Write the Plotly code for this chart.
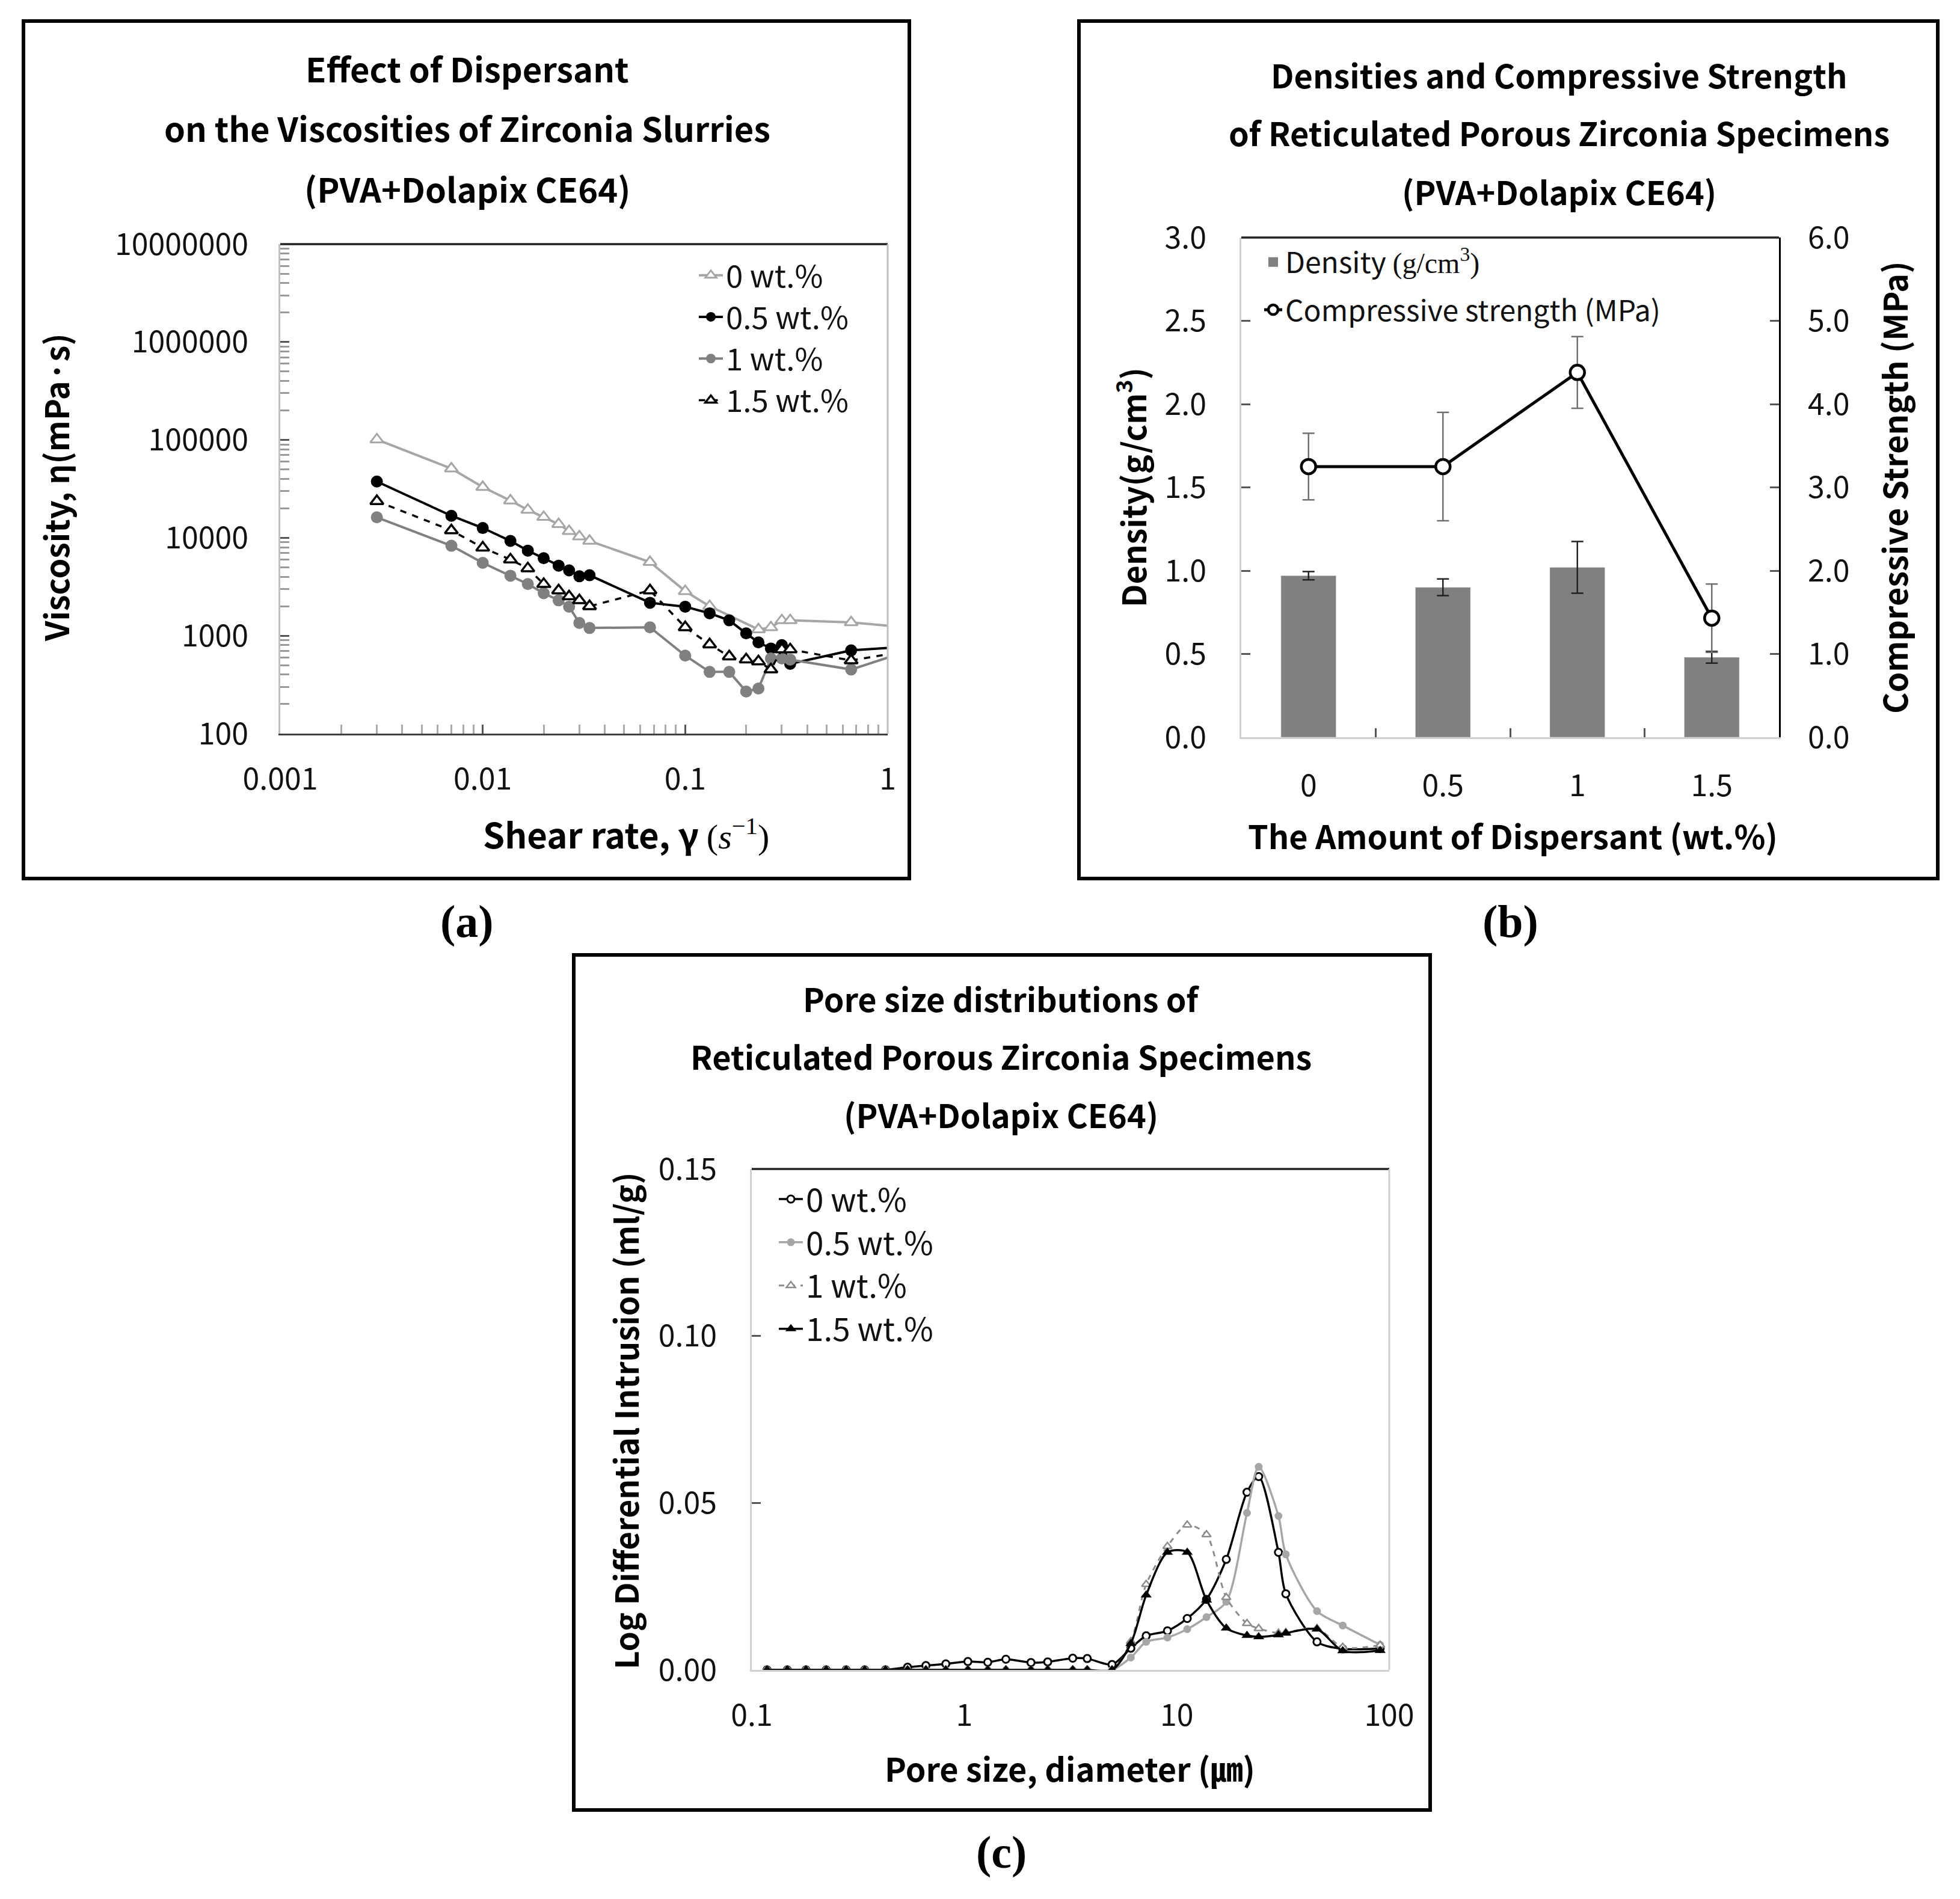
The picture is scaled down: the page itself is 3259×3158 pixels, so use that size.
import plotly.graph_objects as go

W, H = 3259, 3158
SANS = "Noto Sans CJK KR"
SERIF = "Liberation Serif"

# ---------------- Panel (a) data: viscosity vs shear rate ----------------
shear_0 = [0.003, 0.007, 0.01, 0.0137, 0.0167, 0.02, 0.0237, 0.0267, 0.03, 0.0337, 0.067, 0.1, 0.132, 0.23, 0.265, 0.3, 0.33, 0.66, 1.32]
visc_0 = [101000, 51000, 33000, 24000, 19300, 16300, 13800, 11700, 10300, 9300, 5650, 2850, 2000, 1160, 1216, 1436, 1436, 1368, 1200]
shear = [0.003, 0.007, 0.01, 0.0137, 0.0167, 0.02, 0.0237, 0.0267, 0.03, 0.0337, 0.067, 0.1, 0.132, 0.165, 0.2, 0.23, 0.265, 0.3, 0.33, 0.66, 1.32]
visc_05 = [37600, 16800, 12600, 9300, 7400, 6200, 5200, 4650, 4050, 4150, 2170, 1980, 1694, 1436, 1057, 855, 741, 803, 516, 708, 780]
visc_1 = [16200, 8300, 5550, 4100, 3370, 2720, 2300, 1980, 1350, 1200, 1220, 627, 427, 427, 269, 289, 586, 586, 570, 452, 720]
visc_15 = [23700, 11900, 7940, 6000, 4870, 3370, 2900, 2520, 2300, 2000, 2900, 1220, 815, 614, 572, 546, 452, 724, 724, 559, 710]
visc_ticks = [100, 1000, 10000, 100000, 1000000, 10000000]
visc_ticktext = ["100", "1000", "10000", "100000", "1000000", "10000000"]
shear_ticks = [0.001, 0.01, 0.1, 1]
shear_ticktext = ["0.001", "0.01", "0.1", "1"]

# ---------------- Panel (b) data: density and strength ----------------
dispersant = ["0", "0.5", "1", "1.5"]
density = [0.97, 0.90, 1.02, 0.48]
density_err = [0.025, 0.05, 0.155, 0.035]
strength = [3.25, 3.25, 4.38, 1.43]
strength_err = [0.40, 0.65, 0.43, 0.41]

# ---------------- Panel (c) data: pore size distribution ----------------
pore = [0.118, 0.147, 0.18, 0.224, 0.278, 0.34, 0.426, 0.541, 0.66, 0.819, 1.04, 1.29, 1.57, 2.06, 2.47, 3.24, 3.79, 4.96,
        6.08, 7.18, 9.04, 11.2, 13.8, 17.1, 21.4, 24.3, 30.1, 32.6, 45.7, 60.4, 90.6]
ldi_0 = [0, 0, 0, 0, 0, 0, 0, 0.0008, 0.0013, 0.0018, 0.0025, 0.0023, 0.0032, 0.0022, 0.0024, 0.0035, 0.0034, 0.0016,
         0.0065, 0.0102, 0.0117, 0.0154, 0.0211, 0.0331, 0.0532, 0.0579, 0.0352, 0.0228, 0.0084, 0.0063, 0.0064]
ldi_05 = [0] * 18 + [0.0037, 0.0084, 0.0097, 0.0122, 0.0158, 0.0204, 0.047, 0.0608, 0.0461, 0.0346, 0.0176, 0.0133, 0.0075]
ldi_1 = [0] * 18 + [0.0085, 0.0256, 0.037, 0.0434, 0.0405, 0.0217, 0.0139, 0.0124, 0.011, 0.0112, 0.0124, 0.0068, 0.0074]
ldi_15 = [0] * 18 + [0.0079, 0.0224, 0.0352, 0.0352, 0.0209, 0.0125, 0.0103, 0.0099, 0.0105, 0.011, 0.0122, 0.0057, 0.0058]
pore_ticks = [0.1, 1, 10, 100]
pore_ticktext = ["0.1", "1", "10", "100"]

OFF = 8  # page body margin compensation


def PX(p):
    return (p - OFF) / W


def PY(p):
    return 1 - (p - OFF) / H


fig = go.Figure()

# ---- panel (a) traces
LG = "#a6a6a6"
MG = "#808080"
fig.add_trace(go.Scatter(x=shear_0, y=visc_0, name="0 wt.%", mode="lines+markers", xaxis="x", yaxis="y",
                         line=dict(color=LG, width=4),
                         marker=dict(symbol="triangle-up", size=19, color="white", line=dict(color=LG, width=3)),
                         legend="legend"))
fig.add_trace(go.Scatter(x=shear, y=visc_05, name="0.5 wt.%", mode="lines+markers", xaxis="x", yaxis="y",
                         line=dict(color="black", width=4),
                         marker=dict(symbol="circle", size=20, color="black"), legend="legend"))
fig.add_trace(go.Scatter(x=shear, y=visc_1, name="1 wt.%", mode="lines+markers", xaxis="x", yaxis="y",
                         line=dict(color=MG, width=4),
                         marker=dict(symbol="circle", size=20, color=MG), legend="legend"))
fig.add_trace(go.Scatter(x=shear, y=visc_15, name="1.5 wt.%", mode="lines+markers", xaxis="x", yaxis="y",
                         line=dict(color="black", width=3.5, dash="dash"),
                         marker=dict(symbol="triangle-up", size=19, color="white", line=dict(color="black", width=3.5)),
                         legend="legend"))

# ---- panel (b) traces
fig.add_trace(go.Bar(x=dispersant, y=density, xaxis="x2", yaxis="y2", marker=dict(color="#808080"),
                     error_y=dict(type="data", array=density_err, color="#222222", thickness=2.5, width=10),
                     showlegend=False, name="Density"))
fig.add_trace(go.Scatter(x=[None], y=[None], xaxis="x2", yaxis="y2", mode="markers",
                         marker=dict(symbol="square", size=38, color="#808080"),
                         name="Density <span style='font-family:Liberation Serif'>(g/cm<sup>3</sup>)</span>",
                         legend="legend2", legendgroup="dens"))
fig.add_trace(go.Scatter(x=dispersant, y=strength, xaxis="x2", yaxis="y3", mode="lines+markers",
                         line=dict(color="black", width=5),
                         marker=dict(symbol="circle", size=24, color="white", line=dict(color="black", width=4.5)),
                         error_y=dict(type="data", array=strength_err, color="#707070", thickness=2.5, width=10),
                         name="Compressive strength (MPa)", legend="legend2", legendgroup="str"))

# ---- panel (c) traces
fig.add_trace(go.Scatter(x=pore, y=ldi_0, name="0 wt.%", mode="lines+markers", xaxis="x3", yaxis="y4",
                         line=dict(color="black", width=3.5, shape="spline", smoothing=0.8),
                         marker=dict(symbol="circle", size=12, color="white", line=dict(color="black", width=3)),
                         legend="legend3"))
fig.add_trace(go.Scatter(x=pore, y=ldi_05, name="0.5 wt.%", mode="lines+markers", xaxis="x3", yaxis="y4",
                         line=dict(color=LG, width=3.5, shape="spline", smoothing=0.8),
                         marker=dict(symbol="circle", size=13, color=LG), legend="legend3"))
fig.add_trace(go.Scatter(x=pore, y=ldi_1, name="1 wt.%", mode="lines+markers", xaxis="x3", yaxis="y4",
                         line=dict(color="#8c8c8c", width=3, dash="dash", shape="spline", smoothing=0.8),
                         marker=dict(symbol="triangle-up", size=13, color="white", line=dict(color="#8c8c8c", width=2.5)),
                         legend="legend3"))
fig.add_trace(go.Scatter(x=pore, y=ldi_15, name="1.5 wt.%", mode="lines+markers", xaxis="x3", yaxis="y4",
                         line=dict(color="black", width=3.5, shape="spline", smoothing=0.8),
                         marker=dict(symbol="triangle-up", size=16, color="black"), legend="legend3"))

tickfont = dict(family=SANS, size=50, color="#111111")
common = dict(showgrid=False, zeroline=False, ticks="inside", ticklen=15, tickwidth=3, tickcolor="#555555",
              showline=True, linewidth=3, tickfont=tickfont, automargin=False)

fig.update_layout(
    width=W, height=H, margin=dict(l=0, r=0, t=0, b=0, pad=0, autoexpand=False),
    paper_bgcolor="white", plot_bgcolor="white", font=dict(family=SANS, color="black"),
    bargap=0.59,
    xaxis=dict(common, type="log", domain=[PX(466), PX(1476)], range=[-3, 0], anchor="y",
               tickvals=shear_ticks, ticktext=shear_ticktext, linecolor="#404040", ticklabelstandoff=30,
               minor=dict(ticks="inside", ticklen=15, tickwidth=3, tickcolor="#aaaaaa", dtick="D1")),
    yaxis=dict(common, type="log", domain=[PY(1220), PY(406)], range=[2, 7], anchor="x",
               tickvals=visc_ticks, ticktext=visc_ticktext, linecolor="#bfbfbf", ticklabelstandoff=40,
               minor=dict(ticks="inside", ticklen=15, tickwidth=3, tickcolor="#999999", dtick="D1")),
    xaxis2=dict(common, type="category", domain=[PX(2064), PX(2958)], anchor="y2", categoryarray=dispersant,
                categoryorder="array", tickson="boundaries", linecolor="#d0d0d0", ticklabelstandoff=35),
    yaxis2=dict(common, domain=[PY(1226), PY(395)], range=[0, 3], dtick=0.5, tickformat=".1f", anchor="x2",
                linecolor="#d0d0d0", ticklabelstandoff=45),
    yaxis3=dict(common, overlaying="y2", side="right", range=[0, 6], dtick=1, tickformat=".1f", anchor="x2",
                linecolor="black", ticklabelstandoff=35),
    xaxis3=dict(common, type="log", domain=[PX(1250), PX(2310)], range=[-1, 2], anchor="y4",
                tickvals=pore_ticks, ticktext=pore_ticktext, ticks="", linecolor="#d0d0d0", ticklabelstandoff=30),
    yaxis4=dict(common, domain=[PY(2777), PY(1944)], range=[0, 0.15], dtick=0.05, tickformat=".2f", anchor="x3",
                linecolor="#d0d0d0", ticklabelstandoff=45),
    legend=dict(x=PX(1157), y=PY(418), xanchor="left", yanchor="top", bgcolor="rgba(0,0,0,0)",
                font=dict(family=SANS, size=51, color="#111111"), tracegroupgap=0, itemwidth=40),
    legend2=dict(x=PX(2097), y=PY(398), xanchor="left", yanchor="top", bgcolor="rgba(0,0,0,0)",
                 font=dict(family=SANS, size=48, color="#111111"), tracegroupgap=14, itemwidth=30),
    legend3=dict(x=PX(1290), y=PY(1953), xanchor="left", yanchor="top", bgcolor="rgba(0,0,0,0)",
                 font=dict(family=SANS, size=53, color="#111111"), tracegroupgap=0, itemwidth=40),
)

shapes = []
# panel frames
for (x0, y0, x1, y1) in [(39, 35, 1512, 1461), (1794, 35, 3222, 1461), (954, 1588, 2378, 3010)]:
    shapes.append(dict(type="rect", xref="paper", yref="paper", x0=PX(x0), x1=PX(x1), y0=PY(y1), y1=PY(y0),
                       line=dict(color="black", width=6), fillcolor="rgba(0,0,0,0)"))
# top / right borders of plot areas
for xr, yr, rc in [("x", "y", "#bfbfbf"), ("x2", "y2", None), ("x3", "y4", "#d0d0d0")]:
    shapes.append(dict(type="line", xref=xr + " domain", yref=yr + " domain", x0=0, x1=1, y0=1, y1=1,
                       line=dict(color="#222222", width=3.5)))
    if rc:
        shapes.append(dict(type="line", xref=xr + " domain", yref=yr + " domain", x0=1, x1=1, y0=0, y1=1,
                           line=dict(color=rc, width=3)))
fig.update_layout(shapes=shapes)

ann = []


def text(x, y, s, size=50, angle=0, family=SANS, color="black"):
    ann.append(dict(x=PX(x), y=PY(y), xref="paper", yref="paper", text=s, showarrow=False, textangle=angle,
                    xanchor="center", yanchor="middle", font=dict(family=family, size=size, color=color)))


# titles
text(777, 112, "<b>Effect of Dispersant</b>", size=56)
text(777, 212, "<b>on the Viscosities of Zirconia Slurries</b>", size=56)
text(777, 312, "<b>(PVA+Dolapix CE64)</b>", size=56)
text(2592, 123, "<b>Densities and Compressive Strength</b>", size=54)
text(2592, 220, "<b>of Reticulated Porous Zirconia Specimens</b>", size=54)
text(2592, 318, "<b>(PVA+Dolapix CE64)</b>", size=54)
text(1665, 1659, "<b>Pore size distributions of</b>", size=54)
text(1665, 1756, "<b>Reticulated Porous Zirconia Specimens</b>", size=54)
text(1665, 1852, "<b>(PVA+Dolapix CE64)</b>", size=54)

# axis titles
text(92, 811, "<b>Viscosity, η(mPa·s)</b>", size=54, angle=-90)
text(1041, 1386, "<b>Shear rate, γ</b> <span style='font-family:Liberation Serif'>(<i>s</i><sup>−1</sup>)</span>", size=58)
text(1881, 811, "<b>Density(g/cm<sup>3</sup>)</b>", size=54, angle=-90)
text(3149, 811, "<b>Compressive Strength (MPa)</b>", size=54, angle=-90)
text(2515, 1388, "<b>The Amount of Dispersant (wt.%)</b>", size=54)
text(1039, 2363, "<b>Log Differential Intrusion (ml/g)</b>", size=53, angle=-90)
text(1779, 2939, "<b>Pore size, diameter (㎛)</b>", size=54)

# panel labels
text(776, 1532, "<b>(a)</b>", size=76, family=SERIF)
text(2511, 1532, "<b>(b)</b>", size=76, family=SERIF)
text(1665, 3080, "<b>(c)</b>", size=76, family=SERIF)

fig.update_layout(annotations=ann)

fig.write_html("out.html")
